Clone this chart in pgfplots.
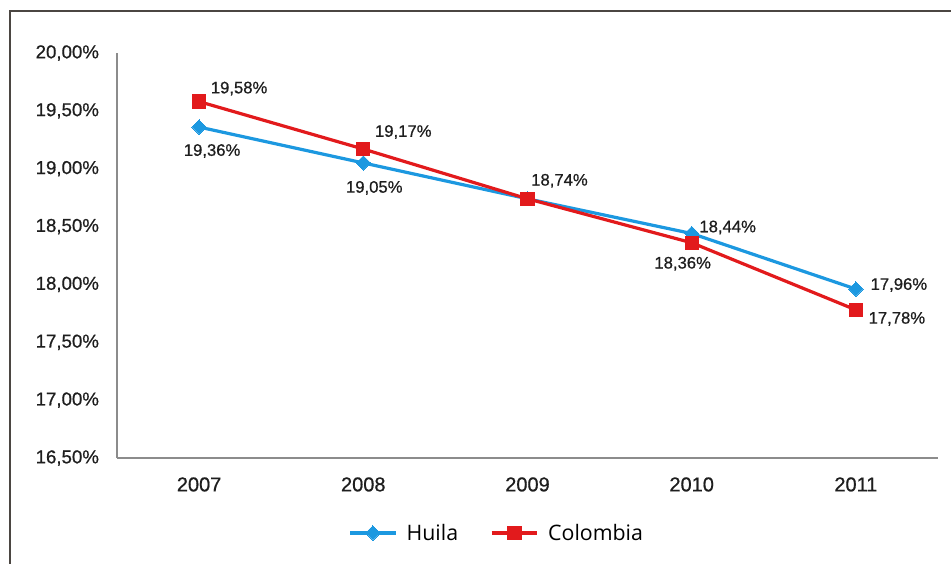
\documentclass[border=0pt]{standalone}
\usepackage{pgfplots}
\usepackage{pgfplotstable}
\pgfplotsset{compat=1.18}
\usepackage{fontspec}
\setmainfont{Liberation Sans}
\newfontfamily\medfont[FakeBold=0.7]{Liberation Sans}
\newfontfamily\legfont{Open Sans}
\definecolor{huilablue}{RGB}{28,152,224}
\definecolor{colred}{RGB}{226,26,28}
\definecolor{axgray}{RGB}{140,140,140}
\definecolor{framegray}{RGB}{75,70,66}
\definecolor{txt}{RGB}{30,30,30}

\pgfplotstableread{
x y lab dx dy show
0 19.36 19,36 13 -24 1
1 19.05 19,05 11 -25 1
2 18.74 18,74 0 0 0
3 18.44 18,44 36 6 1
4 17.96 17,96 43 4 1
}\huila
\pgfplotstableread{
x y lab dx dy show
0 19.58 19,58 40 13 1
1 19.17 19,17 40 17 1
2 18.74 18,74 32 18 1
3 18.36 18,36 -9 -21 1
4 17.78 17,78 41 -9 1
}\colombia

\begin{document}
\begin{tikzpicture}
\useasboundingbox (-87.75pt,-79.5pt) rectangle (625.5pt,343.5pt);
\draw[line width=1.5pt, framegray] (-80.25pt,-79.5pt) -- (-80.25pt,335.25pt) -- (625.5pt,335.25pt);
\begin{axis}[
  at={(0pt,0pt)}, anchor=south west,
  scale only axis,
  width=615.75pt, height=303.75pt,
  xmin=-0.5, xmax=4.5,
  ymin=16.5, ymax=20,
  axis x line=bottom, axis y line=left,
  axis line style={axgray, line width=1.5pt, -},
  major tick length=0pt,
  xtick={0,1,2,3,4},
  xticklabels={2007,2008,2009,2010,2011},
  ytick={16.5,17,17.5,18,18.5,19,19.5,20},
  yticklabels={{16,50\%},{17,00\%},{17,50\%},{18,00\%},{18,50\%},{19,00\%},{19,50\%},{20,00\%}},
  yticklabel style={font=\medfont\fontsize{14}{16}\selectfont, txt, xshift=-10pt},
  xticklabel style={font=\medfont\fontsize{15}{17}\selectfont, txt, yshift=-11pt},
  clip=false,
  point meta=explicit symbolic,
  visualization depends on={\thisrow{dx} \as \dx},
  visualization depends on={\thisrow{dy} \as \dy},
  visualization depends on={\thisrow{show} \as \show},
  nodes near coords={\pgfplotspointmeta\%},
  nodes near coords style={anchor=center, font=\medfont\fontsize{12.5}{14}\selectfont, txt,
     xshift={\dx*0.75pt}, yshift={\dy*0.75pt}, text opacity=\show},
  legend style={at={(0.463,-0.185)}, anchor=center, draw=none, fill=none,
     legend columns=2, font=\legfont\fontsize{16}{18}\selectfont,
     /tikz/every odd column/.append style={column sep=5pt},
     /tikz/every even column/.append style={column sep=22pt}},
  legend cell align=left,
  legend image code/.code={\draw[mark repeat=2,mark phase=2] plot coordinates {(0cm,0cm) (0.6cm,0cm) (1.2cm,0cm)};},
]
\addplot[huilablue, line width=2.4pt, mark=square*, mark size=3.8pt,
  mark options={rotate=45, solid, fill=huilablue, line width=0pt}]
  table[x=x, y=y, meta=lab] {\huila};
\addlegendentry{Huila}
\addplot[colred, line width=2.4pt, mark=square*, mark size=5pt,
  mark options={solid, fill=colred, line width=0pt}]
  table[x=x, y=y, meta=lab] {\colombia};
\addlegendentry{Colombia}
\end{axis}
\end{tikzpicture}
\end{document}
